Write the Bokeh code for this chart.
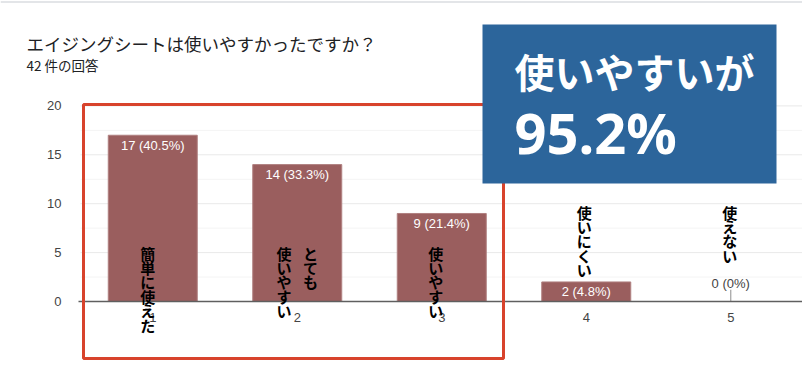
from bokeh.plotting import figure
from bokeh.models import ColumnDataSource, LabelSet, Label, BoxAnnotation, FixedTicker, Range1d
from bokeh.core.properties import value
from bokeh.embed import file_html
from bokeh.resources import INLINE

# ---- data ----
title_text = "エイジングシートは使いやすかったですか？"
subtitle_text = "42 件の回答"
categories = [1, 2, 3, 4, 5]
counts = [17, 14, 9, 2, 0]
category_labels = ["簡単に使えた", "とても 使いやすい", "使いやすい", "使いにくい", "使えない"]
y_ticks = [0, 5, 10, 15, 20]
y_minor_ticks = [2.5, 7.5, 12.5, 17.5]
callout_lines = ["使いやすいが", "95.2%"]

total = sum(counts)


def pct_label(c):
    return f"{c} ({c / total * 100:.1f}%)" if c else f"{c} (0%)"


value_labels = [pct_label(c) for c in counts]

# ---- layout (window pixel geometry of the plotting area) ----
W, H = 802, 384
X_AT_HALF = 80      # window x of category 0.5
PX_PER_X = 144.5
Y_ZERO = 301        # window y of value 0
PX_PER_Y = 9.78


def dx(wx):
    return 0.5 + (wx - X_AT_HALF) / PX_PER_X


def dy(wy):
    return (Y_ZERO - wy) / PX_PER_Y


x_start, x_end = 0.5, dx(W)

JP = "Noto Sans CJK JP"
LAT = "Liberation Sans"

p = figure(width=W, height=H, output_backend="svg", toolbar_location=None,
           x_range=Range1d(dx(0), dx(W)), y_range=Range1d(dy(H), dy(0)),
           min_border=0, min_border_left=0, min_border_right=0,
           min_border_top=0, min_border_bottom=0)
p.outline_line_color = None
p.background_fill_color = "white"
p.border_fill_color = "white"
p.xgrid.visible = False
p.ygrid.visible = False

# top separator line
p.segment(x0=[dx(0)], y0=[dy(1.5)], x1=[dx(W)], y1=[dy(1.5)], line_color="#dadce0", line_width=1.5)

# grid lines (drawn across the plot area only)
p.segment(x0=[x_start] * len(y_minor_ticks), y0=y_minor_ticks, x1=[x_end] * len(y_minor_ticks),
          y1=y_minor_ticks, line_color="#f4f4f4", line_width=1)
p.segment(x0=[x_start] * len(y_ticks), y0=y_ticks, x1=[x_end] * len(y_ticks),
          y1=y_ticks, line_color="#e9e9e9", line_width=1)

# axes, fixed inside the frame
p.xaxis.fixed_location = 0
p.xaxis.bounds = (dx(78), x_end)
p.xaxis.ticker = FixedTicker(ticks=categories)
p.xaxis.axis_line_color = "#5f5f5f"
p.xaxis.axis_line_width = 1.6
p.xaxis.major_tick_line_color = None
p.xaxis.minor_tick_line_color = None
p.xaxis.major_label_text_font = LAT
p.xaxis.major_label_text_font_size = "13px"
p.xaxis.major_label_text_color = "#444444"
p.xaxis.major_label_standoff = 5

p.yaxis.fixed_location = x_start
p.yaxis.ticker = FixedTicker(ticks=y_ticks, minor_ticks=y_minor_ticks)
p.yaxis.axis_line_color = None
p.yaxis.major_tick_line_color = None
p.yaxis.minor_tick_line_color = None
p.yaxis.major_label_text_font = LAT
p.yaxis.major_label_text_font_size = "13px"
p.yaxis.major_label_text_color = "#444444"
p.yaxis.major_label_standoff = 13

src = ColumnDataSource(dict(x=categories, top=counts, lab=value_labels))
p.vbar(x="x", top="top", width=89 / PX_PER_X, source=src,
       fill_color="#9a5e5e", line_color="#b08080", line_width=1)

# value labels inside bars (non-zero)
nz = [i for i, c in enumerate(counts) if c > 0]
zs = [i for i, c in enumerate(counts) if c == 0]
src_nz = ColumnDataSource(dict(x=[categories[i] for i in nz], y=[counts[i] for i in nz],
                               lab=[value_labels[i] for i in nz]))
p.add_layout(LabelSet(x="x", y="y", text="lab", source=src_nz, text_align="center",
                      text_baseline="middle", y_offset=-10, text_color="white",
                      text_font=value(LAT), text_font_size="13px"))
src_z = ColumnDataSource(dict(x=[categories[i] for i in zs], y=[counts[i] for i in zs],
                              y1=[counts[i] + 1.2 for i in zs],
                              lab=[value_labels[i] for i in zs]))
p.segment(x0="x", y0="y", x1="x", y1="y1", source=src_z,
          line_color="#a0a0a0", line_width=1.2)
p.add_layout(LabelSet(x="x", y="y", text="lab", source=src_z, text_align="center",
                      text_baseline="middle", y_offset=18, text_color="#444444",
                      text_font=value(LAT), text_font_size="13px"))

# vertical category labels
label_tops = [242, 242, 242, 201, 201]
label_dx = [-5, 0, -6, -2, -1]
col_gap = 26.5
for i, (cat, txt) in enumerate(zip(categories, category_labels)):
    cols = txt.split(" ")
    n = len(cols)
    for j, col in enumerate(cols):
        # vertical writing: first column on the right
        off = label_dx[i] + ((n - 1) / 2 - j) * col_gap
        p.add_layout(Label(x=cat, y=dy(label_tops[i]), x_offset=off, text="\n".join(col),
                           text_align="center", text_baseline="top", text_line_height=0.69,
                           text_font=JP, text_font_size="15px", text_font_style="bold",
                           text_color="black"))

# title
p.add_layout(Label(x=dx(26), y=dy(43), text=title_text, text_align="left", text_baseline="middle",
                   text_font=JP, text_font_size="17.5px", text_color="#202124"))
p.add_layout(Label(x=dx(26), y=dy(64), text=subtitle_text, text_align="left", text_baseline="middle",
                   text_font=JP, text_font_size="13.5px", text_color="#202124"))

# red highlight frame
p.add_layout(BoxAnnotation(left=dx(83), right=dx(503), top=dy(104), bottom=dy(358),
                           fill_color=None, fill_alpha=0, line_color="#d8432c", line_width=3,
                           line_alpha=1))
# blue callout
p.add_layout(BoxAnnotation(left=dx(482), right=dx(776), top=dy(24), bottom=dy(183),
                           fill_color="#2c659b", fill_alpha=1, line_color=None))
p.add_layout(Label(x=dx(514), y=dy(70), text=callout_lines[0], text_align="left", text_baseline="middle",
                   text_font=JP, text_font_size="40px", text_font_style="bold", text_color="white"))
p.add_layout(Label(x=dx(514), y=dy(131), text=callout_lines[1], text_align="left", text_baseline="middle",
                   text_font="Noto Sans", text_font_size="56px", text_font_style="bold", text_color="white"))

open("out.html", "w").write(file_html(p, INLINE))
